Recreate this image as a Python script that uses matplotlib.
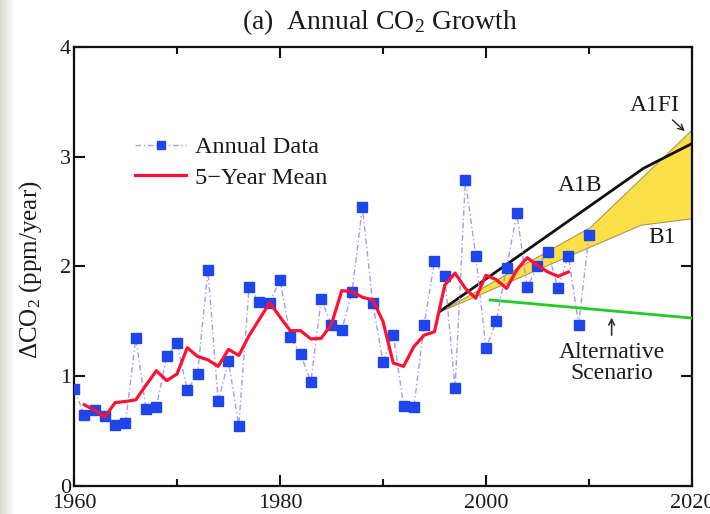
import numpy as np
import matplotlib
matplotlib.use("Agg")
import matplotlib.pyplot as plt
from matplotlib.ticker import MultipleLocator

# Annual CO2 growth (ppm/year), 1960-2010
years = list(range(1960, 2011))
annual = [0.88, 0.65, 0.69, 0.64, 0.56, 0.57, 1.35, 0.70, 0.72, 1.18,
          1.30, 0.875, 1.02, 1.97, 0.77, 1.14, 0.55, 1.81, 1.68, 1.67,
          1.88, 1.36, 1.20, 0.95, 1.70, 1.47, 1.42, 1.77, 2.54, 1.67,
          1.13, 1.38, 0.73, 0.72, 1.47, 2.05, 1.91, 0.89, 2.79, 2.10,
          1.255, 1.50, 1.99, 2.485, 1.81, 2.00, 2.135, 1.80, 2.10, 1.47,
          2.29]

# 5-year running mean, 1961-2008
mean_years = list(range(1961, 2009))
mean5 = [0.74, 0.69, 0.63, 0.76, 0.77, 0.785, 0.92, 1.05, 0.96, 1.02,
         1.26, 1.18, 1.15, 1.09, 1.245, 1.19, 1.37, 1.52, 1.67, 1.54,
         1.415, 1.415, 1.34, 1.345, 1.475, 1.78, 1.77, 1.72, 1.695, 1.50,
         1.12, 1.09, 1.27, 1.375, 1.405, 1.83, 1.94, 1.80, 1.71, 1.92,
         1.88, 1.80, 1.97, 2.08, 2.01, 1.95, 1.91, 1.95]

# IPCC scenarios
a1b_years = [1995.5, 2015.3, 2020]
a1b = [1.59, 2.895, 3.12]
a1fi_years = [1995.5, 2010.1, 2020]
a1fi = [1.59, 2.36, 3.25]
b1_years = [1995.5, 2015.0, 2020]
b1 = [1.59, 2.38, 2.44]
alt_years = [2000.4, 2020]
alt = [1.695, 1.53]

serif = ["Liberation Serif", "DejaVu Serif"]
plt.rcParams["font.family"] = serif
plt.rcParams["mathtext.fontset"] = "custom"
plt.rcParams["mathtext.rm"] = "Liberation Serif"
plt.rcParams["mathtext.it"] = "Liberation Serif:italic"
txt_color = "#1a1a1a"

fig = plt.figure(figsize=(7.10, 5.14), dpi=100)

# soft grey band along the left edge of the page
band = fig.add_axes([0, 0, 0.02, 1])
grad = np.linspace(0, 1, 64)[None, :]
band.imshow(grad, aspect="auto", cmap=matplotlib.colors.LinearSegmentedColormap.from_list(
    "g", ["#d9d9d1", "#ffffff"]), extent=[0, 1, 0, 1])
band.set_axis_off()

ax = fig.add_axes([0.1042, 0.0545, 0.8704, 0.8541])

# scenario band between B1 and A1FI
band_x = np.union1d(a1fi_years, b1_years)
upper = np.interp(band_x, a1fi_years, a1fi)
lower = np.interp(band_x, b1_years, b1)
ax.fill_between(band_x, lower, upper, facecolor="#fde047", edgecolor="#a89850",
                linewidth=0.8, zorder=2)
ax.plot(a1b_years, a1b, color="#111111", lw=2.0, zorder=3)
ax.plot(alt_years, alt, color="#22cc22", lw=2.0, zorder=3)

ax.plot(years, annual, color="#9d9df2", lw=1.0, linestyle=(0, (4, 2, 1, 2)),
        marker="s", markersize=7.5, markerfacecolor="#1f45ec",
        markeredgecolor="#1f45ec", zorder=4, label="Annual Data")
ax.plot(mean_years, mean5, color="#ff1133", lw=2.3, zorder=5, label="5\u2212Year Mean")

ax.set_xlim(1960, 2020)
ax.set_ylim(0, 4)
ax.xaxis.set_major_locator(MultipleLocator(20))
ax.xaxis.set_minor_locator(MultipleLocator(10))
ax.yaxis.set_major_locator(MultipleLocator(1))
ax.tick_params(which="both", direction="in", top=True, right=True, width=1.5,
               colors="#111111", labelsize=16, pad=2)
ax.tick_params(which="major", length=8)
ax.tick_params(which="minor", length=5)
ax.tick_params(axis="x", pad=6)
for lab in ax.get_xticklabels() + ax.get_yticklabels():
    lab.set_color(txt_color)
for s in ax.spines.values():
    s.set_linewidth(1.6)
    s.set_color("#111111")

leg = ax.legend(loc="upper left", bbox_to_anchor=(0.099, 0.797), frameon=False,
                fontsize=17.5, handlelength=2.1, handletextpad=0.35,
                labelspacing=0.35, borderpad=0, borderaxespad=0, markerscale=0.8)
for t in leg.get_texts():
    t.set_color(txt_color)

fig.text(0.535, 0.957, r"(a)  Annual CO$_2$ Growth", ha="center", va="center",
         fontsize=20, color=txt_color)
fig.text(0.043, 0.475, r"$\Delta$CO$_2$ (ppm/year)", rotation=90, ha="center",
         va="center", fontsize=18, color=txt_color)

ax.text(2009.1, 2.74, "A1B", ha="center", va="center", fontsize=17, color=txt_color)
ax.text(2016.4, 3.47, "A1FI", ha="center", va="center", fontsize=17, color=txt_color)
ax.text(2017.1, 2.26, "B1", ha="center", va="center", fontsize=17, color=txt_color)
ax.text(2012.2, 1.12, "Alternative\nScenario", ha="center", va="center",
        fontsize=17, color=txt_color, linespacing=0.95)

ax.annotate("", xy=(2019.5, 3.216), xytext=(2017.9, 3.353),
            arrowprops=dict(arrowstyle="->", color="#222222", lw=1.0))
ax.annotate("", xy=(2012.2, 1.56), xytext=(2012.2, 1.35),
            arrowprops=dict(arrowstyle="->", color="#333333", lw=1.2))

fig.savefig("out.png", dpi=100)
